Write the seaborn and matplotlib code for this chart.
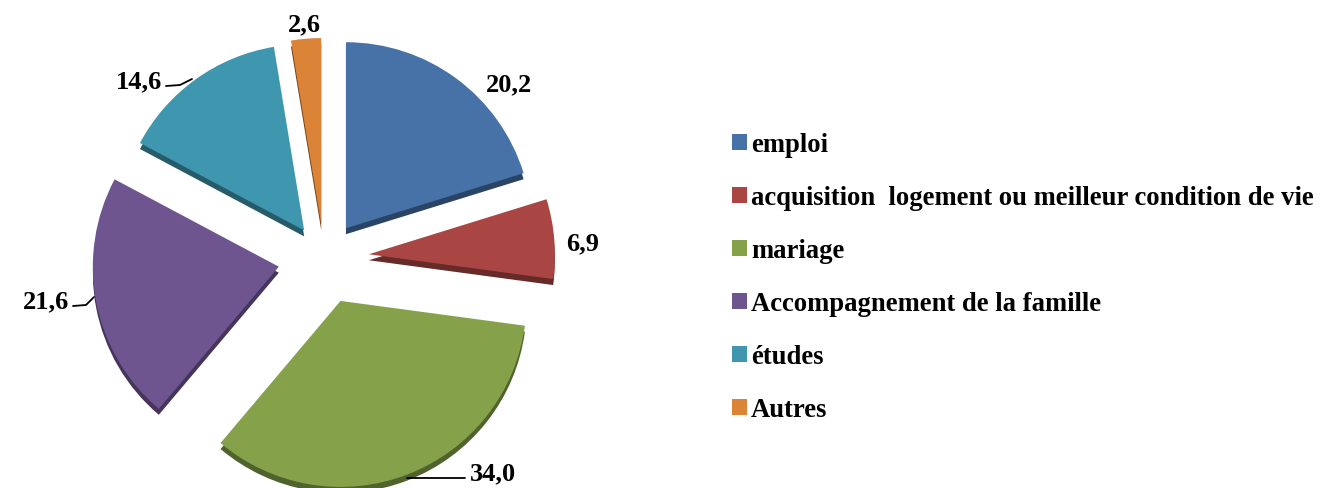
import matplotlib
matplotlib.use("Agg")
import matplotlib.pyplot as plt
import seaborn as sns

# DATA
categories = ["emploi", "acquisition  logement ou meilleur condition de vie", "mariage",
              "Accompagnement de la famille", "études", "Autres"]
values = [20.2, 6.9, 34.0, 21.6, 14.6, 2.6]
value_labels = ["20,2", "6,9", "34,0", "21,6", "14,6", "2,6"]
colours = ["#4672A8", "#A94643", "#85A24B", "#6F5590", "#3F97AF", "#DB8438"]

sns.set_theme(style="white")
plt.rcParams["font.family"] = ["Liberation Serif", "DejaVu Serif"]

fig = plt.figure(figsize=(13.26, 4.89), dpi=100)
ax = fig.add_axes([0, 0, 1, 1])

# pixel coordinates, same as the picture (y flipped by hand)
H = 489
cx, cy = 324, H - 259
radius = 186
gaps = [37, 45, 46, 46, 34, 34]  # explode is in data units, so pixels here
no_edge = {"linewidth": 0}

# dark copy under the pie for the 3d edge
dark = [sns.set_hls_values(c, l=0.28) for c in colours]
ax.pie(values, colors=dark, explode=gaps, startangle=90, counterclock=False,
       center=(cx, cy - 6), radius=radius, frame=True, wedgeprops=no_edge)
wedges, _ = ax.pie(values, colors=colours, explode=gaps, startangle=90, counterclock=False,
                   center=(cx, cy), radius=radius, frame=True, wedgeprops=no_edge)

ax.set_xlim(0, 1326)
ax.set_ylim(0, H)
ax.set_aspect("auto")
ax.axis("off")

# value labels
label_pos = [(509, 85), (583, 244), (493, 474), (46, 302), (139, 82), (304, 25)]
for txt, (x, y) in zip(value_labels, label_pos):
    ax.text(x, H - y, txt, fontsize=19, fontweight="bold", color="black", ha="center", va="center")

# leader lines
leaders = [([407, 465], [479, 479]), ([73, 86, 94], [307, 306, 298]), ([166, 180, 192], [87, 86, 80])]
for xs, ys in leaders:
    ax.plot(xs, [H - y for y in ys], color="black", lw=1.3)

ax.legend(wedges, categories, loc="upper left", bbox_to_anchor=(732 / 1326, 1 - 133 / H),
          frameon=False, prop={"family": "Liberation Serif", "weight": "bold", "size": 19.2},
          labelcolor="black", labelspacing=1.05, handlelength=0.55, handleheight=0.55,
          handletextpad=0.16, borderpad=0, borderaxespad=0)

fig.savefig("out.png", dpi=100)
